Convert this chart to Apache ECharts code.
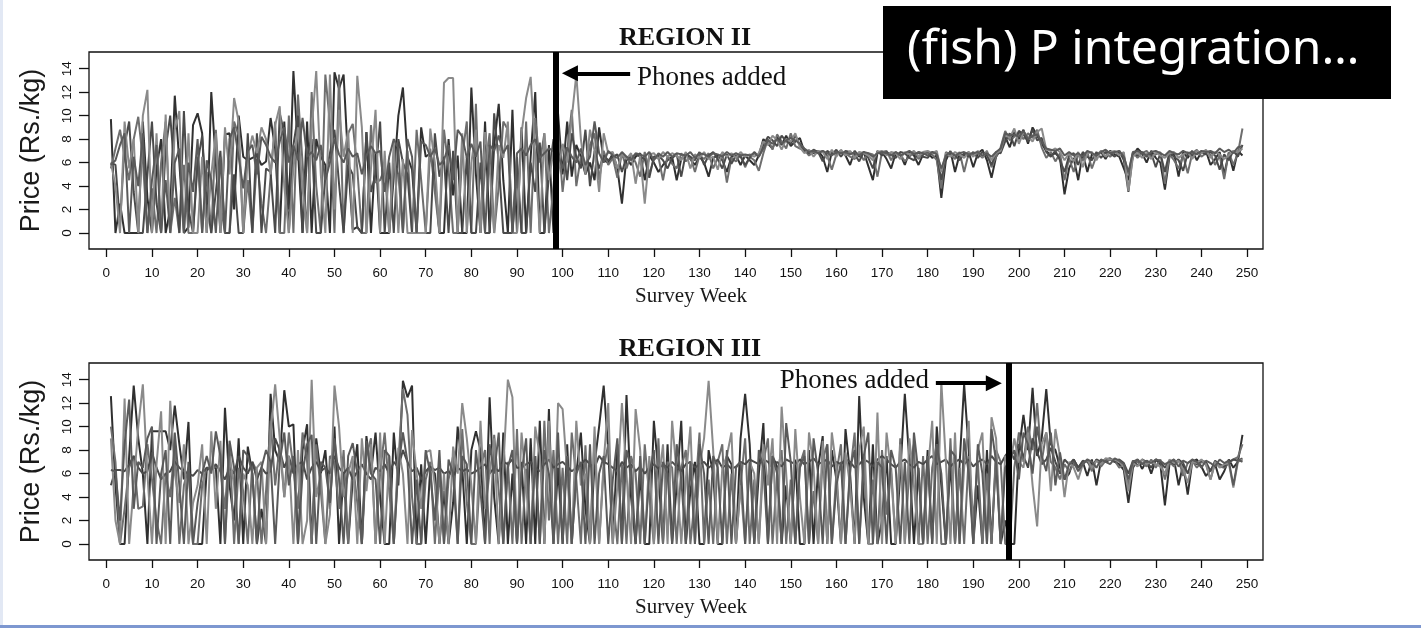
<!DOCTYPE html>
<html><head><meta charset="utf-8">
<script src="https://cdn.jsdelivr.net/npm/echarts@6/dist/echarts.min.js"></script>
<style>html,body{margin:0;padding:0;background:#fff;}#c{width:1421px;height:628px;}</style>
</head><body><div id="c"></div>
<script>
// ---- tick labels ----
const xTickValues = [0,10,20,30,40,50,60,70,80,90,100,110,120,130,140,150,160,170,180,190,200,210,220,230,240,250];
const yTickValues = [0,2,4,6,8,10,12,14];
const panelTitles = ['REGION II', 'REGION III'];
const phonesWeekRegion2 = 98.5;
const phonesWeekRegion3 = 197.7;
// ---- Region II price series, weeks 1..249 ----
const r2a = [
9.7,0,2.5,0,0,0,0,9.5,3,0,
5.5,8,0,2,11.7,6,0,0.5,9.2,10.2,
8.5,0,12,6,0,8.4,8.5,2,10,6.5,
6.2,6.4,6.6,5.8,6.1,9.8,7.2,0,9.5,2,
13.8,7,0,9.5,0,8,6.5,5.8,0,13.7,
12.3,13.5,6,0.3,0.5,0,8.6,0,6.9,0,
0,0,4.8,10,12.4,6.5,5.4,0,9,6.5,
6.8,4.8,0,0,8,3.2,6.6,0,0,12.4,
5,0,9.5,0,7.5,11,4.5,0,10.5,0,
9,0,6.5,12,0,0,7.5,0,10.2,5,
9.5,4.8,7.5,6.5,5,6,4.5,9,6.2,6,
6.8,5.5,2.5,6.5,5.8,6.5,6.8,4.5,6.6,6,
5.2,5.8,6.2,6.5,4.5,6.3,6.7,6.3,5.8,6.5,
6,4.8,6.4,6.6,6.2,5.2,6.5,6.6,5.8,6.6,
6.2,5.8,6.6,8,7.6,7.2,8.2,7.5,8.3,7.4,
7.8,8.1,6.9,7,6.8,7,6.5,5.2,6.9,6.8,
7,6.6,5.8,7,6.5,6.9,5.7,4.5,6.8,6.9,
6.3,5.5,6.8,6.7,5.8,6.9,6.6,5.8,6.7,6.9,
6.4,6.6,3,6.2,7,5.2,6.7,6.6,6.9,5.6,
6.8,7.1,6.2,4.7,6.5,7.1,8.2,7.3,8.6,8,
8.8,7.6,9,8.3,7.6,7,6.6,6.8,6.4,3.3,
5.5,6.4,4.5,6.8,5.2,6.7,6.6,6.9,6.3,7,
6.7,6.5,5.5,4.5,6.6,7.2,6.8,6,7,6.4,
6,3.7,6.5,6.8,4.8,6.9,6.4,7,6.2,6.9,
7,5.8,6.3,6.9,5,6.8,5.3,7,6.6];
const r2b = [
5.5,7.2,8.8,6.5,4.5,8,9.9,6.2,0,3.8,
0,6,9.5,0,3,0,5.8,0,0,6.5,
0,5.2,0,8.8,2.5,0,0,9.5,8.3,0,
4.5,0,6.3,2.5,0,4.8,9.5,0,0,10,
0,11.8,6,0,12,4,0,13.5,9.3,0,
13.5,0,8.5,9.3,5.5,0,0,9.2,4.3,4.5,
5.5,0,6,5,0,7,0,8.8,4.5,0,
7.2,3.5,0,8.8,5.5,0,0,6.5,9.5,0,
11,0,5.5,8.5,0,4,9.5,8.8,0,5,
0,9.5,0,9.8,6,8.5,0,4,8.5,3.5,
7,10.5,4,6.5,5.5,7.5,8.5,4.5,7,5.8,
6.4,4.7,6.8,5.5,6.7,6,4.8,6.9,5,6.3,
6.5,4.5,6.6,5.9,5.5,6.8,6.1,6.5,5.2,6.6,
6.3,6.8,5.5,6.4,6.8,4.3,6.4,6.1,6.7,5.6,
6.5,6.2,5.3,6.8,8,7.1,8.4,7.8,7.2,8.5,
7.4,7.2,7.1,6.6,6.9,6.8,7,6.6,5.4,6.7,
6.9,6.8,6.5,6.3,6.9,6.2,6.8,6.7,4.8,6.9,
7,6.2,6.9,6.7,6.1,6.5,6.9,6.3,6.8,6.8,
6.7,6.2,3.8,6.9,6.7,6.3,6.9,5.2,6.8,6.7,
6.8,6.4,7,5.6,6.5,7.3,8.7,7.9,8.2,8.6,
8,8.5,8.1,8.8,7.3,6.4,6.9,6.1,6.8,4.5,
6.4,5.2,6.7,6.2,6.9,5.5,6.6,7,6.8,6.5,
6.9,6.8,6.6,5,6.9,6.4,6.8,7,6.5,6.7,
6.9,4.2,6.7,6.2,5.5,6.6,5.1,6.8,7.1,6.5,
6.8,6.7,5.8,6.6,4.6,6.9,5.8,6.8,8.9];
const r2c = [
6,5.8,0.8,7.5,9.5,3.5,0,0,5,9.5,
2.5,0,7.2,10,5,0,10.4,2,0,6,
8.3,2.5,0,3.5,7,0,0,5,0,0,
8.5,0,8.5,0,5.5,5.2,0,10.2,8.5,0,
7.5,10,0,6.5,8,0,0,4.8,6.8,8.8,
4.2,0,5.8,5,0.5,0,8.6,3.5,5,9.5,
0,6,0,8,6,5,0,0,0,0,
0,8.5,4.8,6.5,0,7,0,0,6.5,0,
0,6,0,0,10.2,6,0,0,0,6.5,
0,0,6,3.5,7.7,0,5,8,6,7.5,
4.5,8.5,6.5,5.5,8.8,4,7,5.5,6.6,6.2,
6.5,6.7,5.2,6.5,6.4,6.7,6.5,6.3,4.7,6.5,
6.6,6.2,5.5,6.4,6.7,4.8,6.8,6.5,6.2,6.9,
5.8,6.6,6.9,6.3,5.5,6.7,5.9,6.6,6.5,5.8,
6.4,6.9,6.5,7.5,8.2,7.9,7.4,8.3,7.8,7.6,
8.3,7.5,7,6.8,7.1,6.9,6.1,7,6.7,7.1,
6.5,7,6.9,6.7,6.1,6.9,6.4,5.5,7,6.6,
6.9,6.7,6.4,6.9,6.8,6.4,6.2,6.9,6.5,6.4,
6.9,6.8,4.5,6.5,6.8,6.6,6.2,6.8,6.5,6.9,
6.4,6.9,6.6,5.8,6.9,6.8,7.8,8.5,7.4,8.7,
8.4,7.8,8.8,7.9,8.1,6.9,6.5,7,6.2,5.2,
6.6,6.8,5.8,6.9,6.5,6.2,6.9,6.4,6.9,6.8,
6.5,7,6.2,3.5,6.8,6.6,6.9,6.5,6.8,5.6,
6.8,5.2,6.9,6.5,6.2,5.3,6.8,6.6,6.8,6.9,
6.7,6.9,6.6,5.4,6.7,6.2,7,6.5,7.5];
const r2d = [
6,4,0,9.5,5.5,8,0,10,12.2,0,
8.5,0,10.1,0,8.8,10.4,0,8.5,0,0,
6.5,0,5,8.5,0,9,5,11.5,9.5,0,
6.5,8.3,6.8,9,8,5,9.2,10.8,4,0,
5.5,9,3.8,0,8.8,13.8,5,0,13.5,2,
10.5,6.5,8.7,0,13.4,9,0,5.5,10.5,0,
7,0,7.8,0,6.3,0,0,0,0,0,
8.9,6,0,12.8,13.2,13.2,0,8.5,0,6,
8.8,0,8.6,5.5,0,7.5,6.4,9.5,0,0,
8.5,11.5,13.3,6.5,0,8.5,4.5,7,5,7.6,
6,9.8,13.5,8,5,8.8,7,3.5,8.5,6.8,
6.9,5.5,6.7,6.3,6.8,4.2,6.6,2.5,6.7,6.8,
6.3,6.9,6.5,6.8,6.6,6.2,6.9,5.5,6.7,6.4,
6.9,6.3,6.5,5.4,6.9,6.5,6.8,6.4,6.9,6.5,
6.7,6.5,6.8,7.8,7.5,8.3,7.9,7.1,8,7.8,
8.5,7.3,6.8,7.1,6.5,7,6.9,6.3,7.1,6.5,
7.1,6.6,7,6.4,6.9,6.8,6.6,6.2,6.9,7,
6.6,6.9,6.8,6.3,6.9,6.7,7,6.5,6.9,7,
6.8,7,5.2,6.8,6.5,6.9,6.7,6.4,6.9,6.5,
7,6.5,6.9,6.2,6.8,7,8.4,8.1,8.9,7.6,
8.6,8.2,7.8,8.6,8.9,7.1,7,7.2,6.9,6.2,
6.8,6.1,6.9,5.6,6.8,6.9,6.2,7,6.5,6.9,
7,6.6,6.9,3.6,6.5,6.9,6.4,6.8,6.3,6.9,
6.6,6.4,6.8,6.9,6.4,6.7,6.9,6.3,7,6.8,
7.1,6.4,6.9,6.7,6.3,6.6,7,6.9,7.2];
const r2e = [
5.8,6.2,7.5,8.5,0,6.5,4,8.5,0,4.5,
7.5,0,4.5,0,6,7.2,0,6,3.5,8,
0,6.2,4.5,0,6.5,0,8,9,6.5,3.8,
7,7.5,5,8.2,7.5,6.5,6,7.8,9,6,
7.5,6.2,9.8,6.5,6.9,6.2,7.5,4.5,6,8,
6.7,6,7.2,6.5,6.8,5,6.6,7.4,6.8,7,
3.5,6.5,8,7.2,0,8,6.5,0,7.8,7.5,
6.5,7.2,5.8,6.2,7.5,4.5,8.8,8.2,6.4,7.6,
6.5,7.8,0,7.5,7,8.3,6.8,7.5,0,6.8,
7.2,6.6,7.5,8,6.4,6.8,7.2,7,6.7,5.5,
7.3,6.5,6,7.2,5.8,6.5,9.5,6.8,6,7,
6.6,6.4,6.9,6.5,6.2,6.8,6.7,6.5,6.9,6.2,
6.8,6.5,6.9,6.5,6.8,6.7,6.6,6.9,6.4,6.8,
6.7,6.5,6.8,6.7,6.5,6.9,6.6,6.8,6.6,6.7,
6.6,6.8,6.5,7.2,7.9,7.6,8,7.6,7.9,8.1,
7.9,7.6,7.2,6.9,7,6.8,7,6.8,6.6,6.9,
6.8,6.9,6.7,6.9,6.6,6.9,6.8,6.5,6.8,6.9,
6.8,6.6,6.9,6.6,6.8,7,6.7,6.9,6.8,6.6,
6.9,6.7,5.5,6.6,6.9,6.6,6.8,6.9,6.7,6.8,
6.9,6.6,6.8,6.5,6.9,7.2,8.5,8.3,8.4,8.2,
8.7,8,8.3,8.4,7.8,7.2,7.1,7,7.2,6.6,
6.9,6.6,6.8,6.5,7,6.8,6.6,6.9,7.1,6.8,
6.9,7,6.5,5.2,6.9,7,6.8,6.6,6.9,7,
6.8,6.6,7,6.8,6.7,7,6.8,6.9,6.7,7,
6.9,7,6.8,7.2,6.9,7.1,6.8,7.3,7.4];
// ---- Region III price series, weeks 1..249 ----
const r3a = [
12.6,5,0,0,7.5,13.5,9,6,0,9.6,
9.6,9.6,9.6,8,11.8,8.5,5.5,10.4,0,0,
0,6.3,6.5,6.5,0,11.6,5,2,9,0,
8.3,6,0,3,0,12.8,8,7,13.1,10,
10.2,0,8,10.2,0,9,6,8,3,10,
0,6,0,5.5,8.5,0,9.2,6,9.5,4,
0,0,9.5,5,13.9,12.5,13.5,0,6.8,0,
6.5,6,0,4.5,0,3.5,10,6.5,0,8,
9.6,8,0,12.5,4,0,9.5,0,6,0,
7,0,9,0,10.5,0,11.5,0,6.5,0,
8.5,0,6,9.5,3,0,6.8,10,13.5,8,
0,8.5,0,12.7,4,0,6,0,0,10.5,
6,0,8.5,0,5,10.5,0,4.5,7,0,
0,8,6,0,0,7.5,6.8,0,9,12.8,
8.5,0,6,10.3,0,7.5,6.6,0,5,0,
7.2,0,0,8,0,6.5,9.2,0,8,5.5,
0,9.8,6,0,12.6,4,0,8.5,0,2,
7.5,0,0,6,12.8,7,0,6.5,0,8,
0,10,5,0,7,0,6.8,13.6,8,0,
5,0,8,0,7.5,0,2,0,0,8,
11,8,13.3,7.5,9,13.2,8.5,8,6.5,5.5,
6,7.2,6.5,7,5.8,7.2,5,7.1,7,7.2,
7,6.8,6.3,3.5,6.5,7.2,6.4,7.1,6,7.2,
6.8,3.3,6.8,7.2,5,6.8,4.2,7,7.2,6.6,
5.8,6.3,6.8,5.5,6.2,7.2,6.5,7,9.3];
const r3b = [
10,7,0,3,6.5,7.5,3,3.2,8.5,5.5,
2,0,6,4,8.5,0,5,6.5,0,0,
5,6.5,6.5,6.6,6.4,3,8.5,0,6.5,4.5,
0,7,6.2,0,4.5,10.5,5,8.5,4,9.5,
6.5,3,9.5,7,0,8.5,4.5,0,7.5,7,
3,8,0,7,3.5,0,7.5,9,0,6,
9.5,4.5,0,7,13.2,11,4,0,0,5.5,
7,0,6.3,0,5.5,7.5,0,9.8,3.5,0,
0,6.5,8,0,9.3,4.5,0,7,0,9.8,
0,6.4,0,7.5,0,10.5,2,8,0,6.5,
0,9.5,5.5,0,8.4,0,9,0,6.5,8.5,
4,0,6.8,0,7.5,6,0,8.5,4,0,
9,0,7,6.5,0,6.5,8,0,4,9.5,
0,5.5,0,7,8.5,0,6,0,5,9,
0,5.5,0,7,9,0,6,8,0,5.5,
0,6.8,8,0,4.5,0,7.2,8.5,0,6,
8.5,0,6,9.5,0,7,0,5.5,0,8,
2.5,6.5,0,9,0,6.5,8.5,0,7.5,0,
6.5,8.5,0,0,9,0,6.5,0,7.5,2,
7,0,6,0,8,7,0,0,6.5,9.5,
7,10,8,12,7,9.5,7,6.5,5.5,6.8,
6.2,6.8,6.5,6.9,7.1,6.2,7.2,6.6,7.1,7.2,
7.1,6.5,6.8,5,6.8,7,6.9,6.6,7.2,6.5,
7.2,5.5,7,6.6,7.2,5.8,6.9,7.1,6.5,7,
6.8,5.5,6.9,6.6,6.5,6.9,7.2,7.4,8.5];
const r3c = [
5,6.3,6.3,6.2,6.8,7.5,6.5,6,6.2,7.8,
6.5,5.5,6,6.2,7,6.5,6.2,6,5.8,6.3,
6,6.5,6.3,6.8,6.2,5.5,6.5,6,7.5,6.5,
6,7,5.5,6.5,6,6.2,9,8,6.5,7.5,
6,6.8,7,5.5,6.5,7,6.2,6.5,6,7.5,
6.5,6,6.5,5.5,6.2,6.8,6,5.5,6.5,6.2,
6.8,6,7,6.5,8,7,6.2,6.5,5.5,6.2,
6.6,6.3,6.5,6,6.2,5.8,6.5,6.2,6.4,6,
6.2,6.5,6.8,6,6.5,6.2,7,6.8,7.2,6.5,
6.5,6.8,7,6.5,6.2,6.8,7.2,6.5,6.8,7,
6.6,6.2,6.5,6.8,7.2,6.8,6.5,7.5,7,6.8,
6.5,6.2,7,6.5,6.8,6.2,6.6,6,6.5,6.8,
6.4,6.8,6.5,7,6.6,6.2,6.8,7,6.5,6.8,
7,6.5,6.8,7.2,6.5,6.8,6.4,6.6,7,6.8,
7.2,7,6.8,7.2,7,6.5,7,6.6,7.2,7,
6.8,7.2,6.8,7,7.3,6.8,7,7.2,6.6,7,
6.8,7.2,7,6.5,6.8,7.2,7,6.6,7.2,7.5,
7.2,6.8,6.5,7,7.2,6.8,6.5,7,6.8,7.2,
7.5,6.8,7,7.2,6.6,7,7.2,6.8,7.2,6.6,
7,7.2,6.8,7.5,7,6.8,7.5,8,7.2,8.5,
7.5,6.5,9,7.8,6.8,7.2,8.2,7,6,7.2,
6.8,7.2,6.5,7.1,7,6.6,7.2,7,7.2,7.3,
7,7.2,6.9,6,7.1,6.7,7.2,7,6.5,7.2,
7,6.5,7.1,6.8,7.2,6.9,6,7.2,6.8,7.1,
7,6.2,7.1,6.8,6.6,7,7.2,7.1,7.3];
const r3d = [
9,2,0,12.4,0,5,10,13.6,6,0,
6.8,11.3,0,12.2,6,3.5,8.5,0,3.5,5,
8.5,0,9.6,3,8.8,0,7.5,5,0,6,
5,0,6.5,7,0,9.5,13.6,9,4,7.5,
0,8,0,2,14,4,6,0,2.5,13.5,
10,4,6,7.5,0,9,4.5,8.5,0,9.5,
0,7.5,0,8.2,6,0,9.7,6,3,7.8,
8,5,0,6,0,8.3,6,12,9,5,
0,10.5,3,6,9,0,6.5,14,12.5,0,
9.5,5,0,10,7.5,0,10.5,0,12,11.5,
6,0,10.5,5,6,0,10,0,7,12,
0,5,12,6,0,11.5,8,0,7.5,0,
5,8.5,0,10.5,6,0,5.5,10,0,6.5,
9,13.9,8,0,6.5,7.5,9.5,0,5,0,
7,6,0,8.5,5,9,0,11.7,6,0,
9.8,4,0,9.5,6.5,0,8.8,0,9.5,6.5,
0,7.8,5,0,8,10,0,0,11.2,0,
9.5,6,0,8.5,0,9,5,0,0,6,
10.5,0,13.8,7,0,9.5,0,6.5,10.5,0,
8,9.5,0,10.8,9,0,7.5,6.5,9,7,
6.5,9.5,5,1.5,8.5,9.5,4.5,9.8,7.5,4,
7,6.5,5.5,6.8,7.2,6.5,7.1,6.8,7.3,7.2,
7.2,7,6.6,4.5,6.9,6.6,7.2,6.8,7,6.8,
6.6,6,7.2,6.9,7.1,6.4,5.2,7,6.9,7.2,
6.8,5.5,7,6.5,6.8,6.9,4.8,7,7.2];
const r3e = [
6.3,6.2,2,8.5,12.3,3,7,6.5,9,10,
0,6,8,0,9.5,5,0,7,0,3.5,
6,7.5,6,9.6,7.5,0,8.8,6.5,0,8,
7.5,6,0,6.5,8,7,0,7,9.5,5,
7.5,0,6,8.5,9.3,0,7,6.5,3.5,9,
5.5,0,7.5,8.6,6,0,8.8,6,5.5,0,
8,7.5,0,6.5,9.5,7,0,5.5,0,8,
6,2,8,0,7.2,6,0,7.5,6.8,0,
8,4.5,0,8.5,6,9.5,0,6.5,8,0,
6,9,0,7.5,0,8,6,0,9.5,0,
7.5,0,6,7,0,8.5,0,6,7.5,0,
5.5,9,0,8,6.5,0,7.5,0,6,8,
0,7,6,0,8.5,5.5,0,7,0,8.5,
6,0,7.5,6.5,0,8,0,6.5,7,0,
7,0,8,6.5,0,7.5,6,0,10.3,7,
0,6.5,7.5,0,9,6,0,8.5,0,5,
7,0,6.5,8,0,7.5,9.5,0,7,6.5,
0,8,6.5,0,7,0,9.5,6,0,7.5,
0,8.5,6,0,8,7.5,0,9,6,0,
8.5,6,0,9.8,7,0,6.5,7.2,8,5.5,
9.5,8.5,6,10,7.5,6.2,9.5,5,7.8,5.5,
6.8,7,6.2,6.8,7.2,7,6.5,7.2,7,6.8,
7.3,7.1,6.8,5.5,7,7.2,6.8,7.1,6.9,7.2,
7.1,6.8,7,7.2,6.6,7.1,6.9,7.2,7,6.5,
7.1,6.9,6.6,7.2,6.9,7.1,5,7.2,7];

const seriesColors = ['#303030','#6e6e6e','#4a4a4a','#8a8a8a','#5a5a5a'];

const chart = echarts.init(document.getElementById('c'), null, {renderer:'canvas', width:1421, height:628});

const axisFont = 'Liberation Sans, Arial, sans-serif';
const serifFont = 'Liberation Serif, Times New Roman, serif';

function makeX(gi){
  return {
    type:'value', gridIndex:gi, min:-3.8, max:253.5,
    axisLine:{show:false, onZero:false},
    axisTick:{show:true, customValues:xTickValues, length:8, lineStyle:{color:'#111', width:1.3}},
    axisLabel:{customValues:xTickValues, color:'#111', fontSize:13.5, fontFamily:axisFont, margin:17},
    splitLine:{show:false},
    name:'Survey Week', nameLocation:'middle', nameGap:37,
    nameTextStyle:{fontFamily:serifFont, fontSize:21, color:'#1a1a1a', padding:[0,0,0,30]}
  };
}
function makeY(gi){
  return {
    type:'value', gridIndex:gi, min:-1.36, max:15.42,
    axisLine:{show:false, onZero:false},
    axisTick:{show:true, customValues:yTickValues, length:10, lineStyle:{color:'#111', width:1.3}},
    axisLabel:{customValues:yTickValues, rotate:90, color:'#111', fontSize:13.5, fontFamily:axisFont, margin:15},
    splitLine:{show:false},
    name:'Price (Rs./kg)', nameLocation:'middle', nameGap:44,
    nameTextStyle:{fontFamily:axisFont, fontSize:27, color:'#1a1a1a'}
  };
}

function panelSeries(arrs, gi, phonesWeek, arrowFrom, arrowTo, arrowY){
  return arrs.map((arr, k) => {
    const s = {
      type:'line', xAxisIndex:gi, yAxisIndex:gi, showSymbol:false, symbol:'none',
      data: arr.map((v,i)=>[i+1, v]),
      lineStyle:{color:seriesColors[k], width:2},
      itemStyle:{color:seriesColors[k]},
      emphasis:{disabled:true}, silent:true, z:2
    };
    if (k === arrs.length-1) {
      s.markLine = {
        silent:true, animation:false, label:{show:false}, emphasis:{disabled:true},
        symbol:['none','none'],
        data:[
          {xAxis:phonesWeek, lineStyle:{color:'#000', width:6, type:'solid'}},
          [ {coord:[arrowFrom, arrowY], symbol:'none', lineStyle:{color:'#000', width:4, type:'solid'}},
            {coord:[arrowTo, arrowY], symbol:'triangle', symbolSize:[16,16], itemStyle:{color:'#000'}} ]
        ]
      };
    }
    return s;
  });
}

const option = {
  animation:false,
  backgroundColor:'#ffffff',
  grid:[
    {left:89, top:52, width:1174, height:197, show:true, borderColor:'#111', borderWidth:1.3, backgroundColor:'transparent'},
    {left:89, top:363, width:1174, height:197, show:true, borderColor:'#111', borderWidth:1.3, backgroundColor:'transparent'}
  ],
  xAxis:[makeX(0), makeX(1)],
  yAxis:[makeY(0), makeY(1)],
  series:[
    ...panelSeries([r2a,r2b,r2c,r2d,r2e], 0, phonesWeekRegion2, 114.8, 101.6, 13.6),
    ...panelSeries([r3a,r3b,r3c,r3d,r3e], 1, phonesWeekRegion3, 181.8, 194.5, 13.7)
  ],
  graphic:[
    {type:'rect', left:0, top:0, shape:{width:3, height:628}, style:{fill:'#e2e8f4'}, z:100},
    {type:'rect', left:0, top:625, shape:{width:1421, height:3}, style:{fill:'#7d97d0'}, z:100},
    {type:'text', x:685, y:38, style:{text:panelTitles[0], fontFamily:serifFont, fontWeight:'bold', fontSize:26, fill:'#111', align:'center', verticalAlign:'middle'}, z:100},
    {type:'text', x:690, y:349, style:{text:panelTitles[1], fontFamily:serifFont, fontWeight:'bold', fontSize:26, fill:'#111', align:'center', verticalAlign:'middle'}, z:100},
    {type:'text', x:637, y:78, style:{text:'Phones added', fontFamily:serifFont, fontSize:27, fill:'#111', align:'left', verticalAlign:'middle'}, z:100},
    {type:'text', x:929, y:381, style:{text:'Phones added', fontFamily:serifFont, fontSize:27, fill:'#111', align:'right', verticalAlign:'middle'}, z:100},
    {type:'rect', left:883, top:6, shape:{width:508, height:93}, style:{fill:'#000'}, z:110},
    {type:'text', x:907, y:50, style:{text:'(fish) P integration…', fontFamily:'Noto Sans', fontSize:48, fill:'#fff', align:'left', verticalAlign:'middle'}, z:111}
  ]
};
chart.setOption(option);
</script></body></html>
